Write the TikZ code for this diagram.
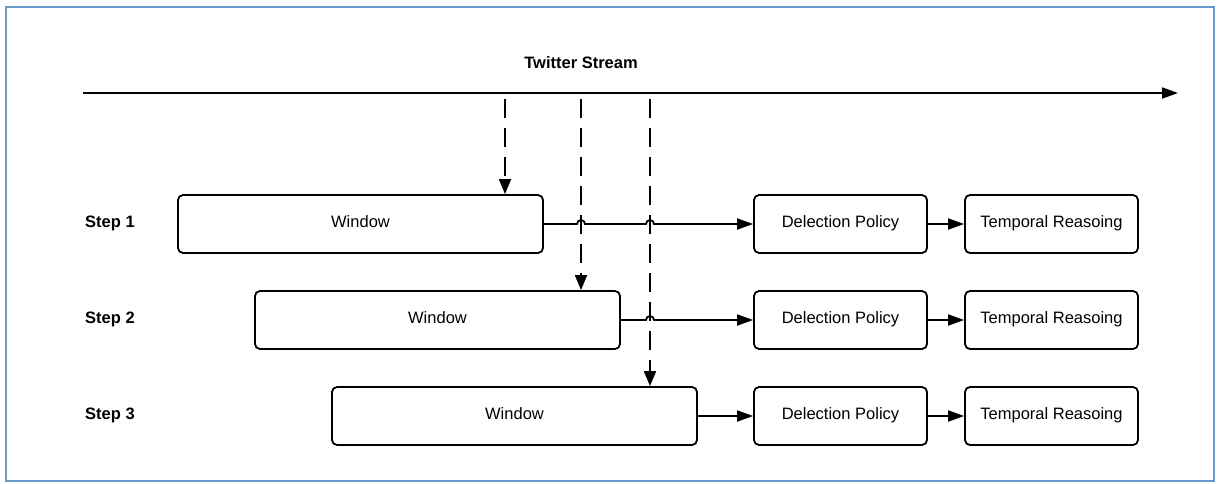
\documentclass[tikz,border=0pt]{standalone}
\usepackage{fontspec}
\setmainfont{Liberation Sans}
\usetikzlibrary{arrows.meta,calc}
\definecolor{framecol}{RGB}{102,153,204}
\tikzset{
  box/.style={draw=black,line width=1.8pt,rounded corners=5pt,minimum height=58pt,inner sep=0pt,text height=12pt,text depth=6pt,font=\fontsize{16.5}{18}\selectfont},
  winbox/.style={box,minimum width=365pt},
  polbox/.style={box,minimum width=173pt},
  steplabel/.style={anchor=base west,inner sep=0pt,font=\fontsize{16.5}{18}\selectfont\bfseries},
  conn/.style={line width=1.8pt,-{Triangle[length=16pt,width=11pt]}},
  dasharrow/.style={line width=1.8pt,dash pattern=on 19pt off 10pt,-{Triangle[length=15pt,width=12pt]}},
}
\begin{document}
\begin{tikzpicture}[x=1pt,y=-1pt]
\useasboundingbox (0,0) rectangle (1217,483);
\draw[framecol,line width=2pt] (6,7) rectangle (1214,481);

\node[anchor=base,inner sep=0pt,font=\fontsize{16.5}{18}\selectfont\bfseries] (title) at (581,68) {Twitter Stream};
\coordinate (ts) at (83,93);
\coordinate (te) at (1178,93);
\draw[conn] (ts) -- (te);

% boxes
\node[winbox] (w1) at (360.5,224) {Window};
\node[polbox] (d1) at (840.5,224) {Delection Policy};
\node[polbox] (r1) at (1051.5,224) {Temporal Reasoing};
\node[winbox] (w2) at (437.5,320) {Window};
\node[polbox] (d2) at (840.5,320) {Delection Policy};
\node[polbox] (r2) at (1051.5,320) {Temporal Reasoing};
\node[winbox] (w3) at (514.5,416) {Window};
\node[polbox] (d3) at (840.5,416) {Delection Policy};
\node[polbox] (r3) at (1051.5,416) {Temporal Reasoing};

\node[steplabel] (s1) at (85,227) {Step 1};
\node[steplabel] (s2) at (85,323) {Step 2};
\node[steplabel] (s3) at (85,419) {Step 3};

% dashed arrows from stream
\coordinate (t1) at (505,99);
\coordinate (t2) at (581,99);
\coordinate (t3) at (650,99);
\draw[dasharrow] (t1) -- (t1 |- w1.north);
\draw[dasharrow] (t2) -- (t2 |- w2.north);
\draw[dasharrow] (t3) -- (t3 |- w3.north);

% connectors with line jumps
\draw[conn] (w1.east) -- ($(t2 |- w1.east)+(-4,0)$) arc[start angle=180,end angle=0,radius=4pt]
  -- ($(t3 |- w1.east)+(-4,0)$) arc[start angle=180,end angle=0,radius=4pt] -- (d1.west);
\draw[conn] (w2.east) -- ($(t3 |- w2.east)+(-4,0)$) arc[start angle=180,end angle=0,radius=4pt] -- (d2.west);
\draw[conn] (w3.east) -- (d3.west);

\draw[conn] (d1.east) -- (r1.west);
\draw[conn] (d2.east) -- (r2.west);
\draw[conn] (d3.east) -- (r3.west);
\end{tikzpicture}
\end{document}
